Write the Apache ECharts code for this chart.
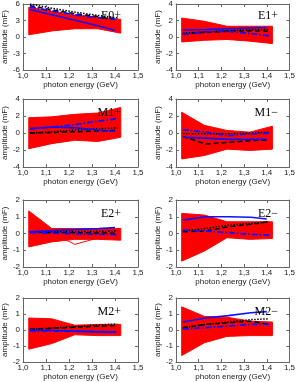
<!DOCTYPE html>
<html><head><meta charset="utf-8">
<script src="https://cdn.jsdelivr.net/npm/echarts@6/dist/echarts.min.js"></script>
<style>html,body{margin:0;padding:0;background:#fff}#c{width:298px;height:382px}</style>
</head><body><div id="c"></div>
<script>
// panel names
const panels = ['E0+','E1+','M1+','M1\u2212','E2+','E2\u2212','M2+','M2\u2212'];
const xTicks = [1.0,1.1,1.2,1.3,1.4,1.5];
const yRanges = [[-6,6,3],[-4,4,2],[-4,4,2],[-4,4,2],[-2,2,1],[-2,2,1],[-2,2,1],[-2,2,1]];
// x nodes
const redX = [1.025,1.125,1.225,1.325,1.425];
const modelX = [1.03,1.13,1.23,1.33,1.41];
const blueX = [1.03,1.13,1.23,1.33,1.40];

// red band (lower / upper envelopes of the red line bundle)
const redLo_E0p = [0.4,1.1,1.5,1.5,0.7];
const redHi_E0p = [5.4,4.7,4.0,3.6,3.2];
const redLo_E1p = [-0.6,-0.4,-0.3,-0.5,-0.8];
const redHi_E1p = [2.3,1.9,1.3,1.3,1.3];
const redLo_M1p = [-1.85,-1.25,-0.85,-1.0,-0.5];
const redHi_M1p = [1.8,1.9,2.2,2.35,3.0];
const redLo_M1m = [-3.05,-2.65,-1.9,-2.05,-1.9];
const redHi_M1m = [2.45,0.9,0.3,0.1,0.8];
const redLo_E2p = [-0.8,-0.5,-0.35,-0.35,-0.4];
const redHi_E2p = [1.35,0.3,0.3,0.3,0.3];
const redLo_E2m = [-1.65,-1.05,-0.25,-0.35,-0.3];
const redHi_E2m = [1.2,1.1,0.7,0.7,0.7];
const redLo_M2p = [-1.2,-0.85,-0.3,-0.35,-0.35];
const redHi_M2p = [0.75,0.7,0.3,0.35,0.35];
const redLo_M2m = [-1.6,-0.8,-0.4,-0.35,-0.35];
const redHi_M2m = [1.45,0.85,0.8,0.55,0.5];
// a single visible outlier red line (E2+ dip)
const redDip_E2p = [0.1,0.05,-0.65,-0.27,-0.2];

// model curves
const blue_E0p = [5.0,4.0,3.0,2.0,1.2];
const blueDash_E0p = [5.5,4.7,4.0,3.5,3.2];
const blackDash_E0p = [5.7,4.9,4.2,3.7,3.3];
const blackDot_E0p = [6.0,5.2,4.5,3.9,3.5];

const blue_E1p = [0.85,0.9,1.0,1.1,1.15];
const blueDash_E1p = [0.3,0.65,0.7,0.4,0.15];
const blackDash_E1p = [0.4,0.55,0.7,0.75,0.7];
const blackDot_E1p = [0.5,0.6,0.8,0.9,0.9];

const blue_M1p = [0.5,0.7,0.6,0.35,0.2];
const blueDash_M1p = [0.5,0.7,1.0,1.4,1.7];
const blackDash_M1p = [0.0,0.05,0.15,0.25,0.3];
const blackDot_M1p = [0.0,0.15,0.35,0.5,0.6];

const blue_M1m = [-0.5,-0.6,-0.75,-0.75,-0.75];
const blueDash_M1m = [0.4,0.1,-0.3,-0.1,0.0];
const blackDash_M1m = [-0.4,-1.3,-1.1,-0.9,-0.8];
const blackDot_M1m = [-0.1,-0.1,-0.1,0.0,0.1];

const blue_E2p = [0.1,0.17,0.23,0.3,0.35];
const blueDash_E2p = [0.05,0.02,-0.02,-0.05,-0.07];
const blackDash_E2p = [0.08,0.06,0.05,0.03,0.02];
const blackDot_E2p = [0.1,0.1,0.11,0.13,0.15];

const blue_E2m = [0.8,1.0,1.0,0.97,0.87];
const blueDash_E2m = [0.2,0.15,0.05,-0.05,-0.1];
const blackDash_E2m = [0.1,0.15,0.4,0.55,0.7];
const blackDot_E2m = [0.15,0.3,0.5,0.6,0.7];

const blue_M2p = [0.0,-0.03,-0.07,-0.12,-0.15];
const blueDash_M2p = [-0.05,-0.06,-0.08,-0.1,-0.12];
const blackDash_M2p = [0.05,0.1,0.18,0.24,0.28];
const blackDot_M2p = [0.05,0.12,0.22,0.32,0.38];

const blue_M2m = [0.5,0.75,0.9,1.08,1.15];
const blueDash_M2m = [0.05,0.15,0.25,0.35,0.35];
const blackDash_M2m = [0.15,0.35,0.45,0.55,0.35];
const blackDot_M2m = [0.1,0.35,0.5,0.65,0.7];

const redLo = [redLo_E0p,redLo_E1p,redLo_M1p,redLo_M1m,redLo_E2p,redLo_E2m,redLo_M2p,redLo_M2m];
const redHi = [redHi_E0p,redHi_E1p,redHi_M1p,redHi_M1m,redHi_E2p,redHi_E2m,redHi_M2p,redHi_M2m];
const blue = [blue_E0p,blue_E1p,blue_M1p,blue_M1m,blue_E2p,blue_E2m,blue_M2p,blue_M2m];
const blueDash = [blueDash_E0p,blueDash_E1p,blueDash_M1p,blueDash_M1m,blueDash_E2p,blueDash_E2m,blueDash_M2p,blueDash_M2m];
const blackDash = [blackDash_E0p,blackDash_E1p,blackDash_M1p,blackDash_M1m,blackDash_E2p,blackDash_E2m,blackDash_M2p,blackDash_M2m];
const blackDot = [blackDot_E0p,blackDot_E1p,blackDot_M1p,blackDot_M1m,blackDot_E2p,blackDot_E2m,blackDot_M2p,blackDot_M2m];

const colLeft = [20,176], colW = [118,119];
const rowTop = [2,99,200,298], rowH = [68,68,67,67];
const axisCol = '#666', txtCol = '#222';
const pairs = (xs, ys) => ys.map((y,i)=>[xs[i], y]);

const grid=[], xAxis=[], yAxis=[], series=[], graphic=[];
panels.forEach((name,i)=>{
  const c=i%2, r=Math.floor(i/2);
  const L=colLeft[c], T=rowTop[r], W=colW[c], H=rowH[r];
  grid.push({left:L, top:T, width:W, height:H, containLabel:false});
  const [ymin,ymax,yint]=yRanges[i];
  const tick={show:true, inside:true, length:3, lineStyle:{color:axisCol}};
  const line={show:true, onZero:false, lineStyle:{color:axisCol, width:1}};
  xAxis.push({gridIndex:i, type:'value', min:xTicks[0], max:xTicks[xTicks.length-1], interval:0.1,
    axisLine:line, axisTick:tick, splitLine:{show:false},
    axisLabel:{fontSize:8, color:txtCol, margin:2, fontFamily:'Liberation Sans',
      formatter:v=>v.toFixed(1).replace('.',',')},
    name:'photon energy (GeV)', nameLocation:'middle', nameGap:11,
    nameTextStyle:{fontSize:8, color:txtCol, fontFamily:'Liberation Sans'}});
  xAxis.push({gridIndex:i, type:'value', position:'top', min:xTicks[0], max:xTicks[xTicks.length-1], interval:0.1,
    axisLine:line, axisTick:tick, axisLabel:{show:false}, splitLine:{show:false}});
  yAxis.push({gridIndex:i, type:'value', min:ymin, max:ymax, interval:yint,
    axisLine:line, axisTick:tick, splitLine:{show:false},
    axisLabel:{fontSize:8, color:txtCol, margin:3, fontFamily:'Liberation Sans'},
    name:'amplitude (mF)', nameLocation:'middle', nameGap:14,
    nameTextStyle:{fontSize:8, color:txtCol, fontFamily:'Liberation Sans'}});
  yAxis.push({gridIndex:i, type:'value', position:'right', min:ymin, max:ymax, interval:yint,
    axisLine:line, axisTick:tick, axisLabel:{show:false}, splitLine:{show:false}});
  const xi=2*i, yi=2*i;
  const base={xAxisIndex:xi, yAxisIndex:yi, type:'line', symbol:'none', silent:true, animation:false, clip:true};
  const lo=redLo[i], hi=redHi[i];
  series.push({type:'custom', xAxisIndex:xi, yAxisIndex:yi, silent:true, animation:false,
    data:[[redX[0], lo[0]]],
    renderItem:(params, api)=>{
      const pts = redX.map((x,k)=>api.coord([x, hi[k]]))
        .concat(redX.map((x,k)=>api.coord([x, lo[k]])).reverse());
      return {type:'polygon', shape:{points:pts}, style:{fill:'#ff0000', stroke:'#ff0000', lineWidth:1}};
    }});
  if(i===4) series.push(Object.assign({}, base, {data:pairs(redX, redDip_E2p), lineStyle:{color:'#ff0000', width:1}}));
  series.push(Object.assign({}, base, {data:pairs(modelX, blackDot[i]), lineStyle:{color:'#000', width:1.5, type:[1.5,1.5]}}));
  series.push(Object.assign({}, base, {data:pairs(modelX, blackDash[i]), lineStyle:{color:'#000', width:1.5, type:[5,3]}}));
  series.push(Object.assign({}, base, {data:pairs(modelX, blueDash[i]), lineStyle:{color:'#1010ff', width:1.8, type:[6,2,1.5,2]}}));
  series.push(Object.assign({}, base, {data:pairs(blueX, blue[i]), lineStyle:{color:'#1010ff', width:1.6}}));
  graphic.push({type:'text', x:L+W-17, y:T+14, z:100,
    style:{text:name, font:'12px "Liberation Serif"', fill:'#000', align:'right', verticalAlign:'middle'}});
});

const chart = echarts.init(document.getElementById('c'), null, {renderer:'canvas'});
chart.setOption({animation:false, grid, xAxis, yAxis, series, graphic});
</script></body></html>
